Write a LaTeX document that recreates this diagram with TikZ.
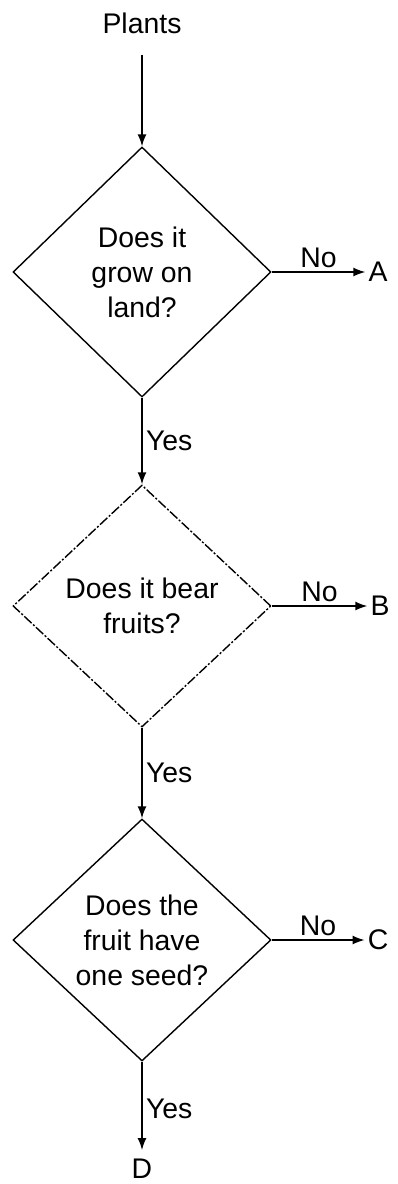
\documentclass[tikz,border=0pt]{standalone}
\usepackage{fontspec}
\setmainfont{Liberation Sans}
\usetikzlibrary{arrows.meta}
\usetikzlibrary{shapes}
\usetikzlibrary{positioning}
\tikzstyle{decision} = [diamond, minimum width=258bp, minimum height=242bp, inner sep=0pt, text centered, align=center, draw=black, line width=1.4bp]
\tikzstyle{term} = [inner sep=3bp]
\tikzstyle{arrow} = [line width=1.5bp,->,>={Latex[length=12bp,width=9bp]}]

\begin{document}
\begin{tikzpicture}[x=1bp, y=1bp, node distance=334bp, font=\fontsize{28.5}{35}\selectfont]
\useasboundingbox (0,0) rectangle (397,-1184);

\node [decision, minimum height=250bp] (d1) at (142,-272) {Does it\\grow on\\land?};
\node [decision, below of = d1, dash pattern=on 10bp off 2bp on 2bp off 2bp] (d2) {Does it bear\\fruits?};
\node [decision, below of = d2] (d3) {Does the\\fruit have\\one seed?};

\node [term, above of = d1, yshift=-85bp] (plants) {Plants};
\node [term, right of = d1, xshift=-98bp] (A) {A};
\node [term, right of = d2, xshift=-96bp] (B) {B};
\node [term, right of = d3, xshift=-98bp] (C) {C};
\node [term, below of = d3, yshift=105bp] (D) {D};

\draw [arrow, shorten <=18bp] (plants) -- (d1);
\draw [arrow] (d1) -- node[above] {No} (A);
\draw [arrow] (d2) -- node[above] {No} (B);
\draw [arrow] (d3) -- node[above] {No} (C);

\draw [arrow] (d1) -- node[right] {Yes} (d2);
\draw [arrow] (d2) -- node[right] {Yes} (d3);
\draw [arrow, shorten >=6bp] (d3) -- node[right] {Yes} (D);

\end{tikzpicture}
\end{document}
